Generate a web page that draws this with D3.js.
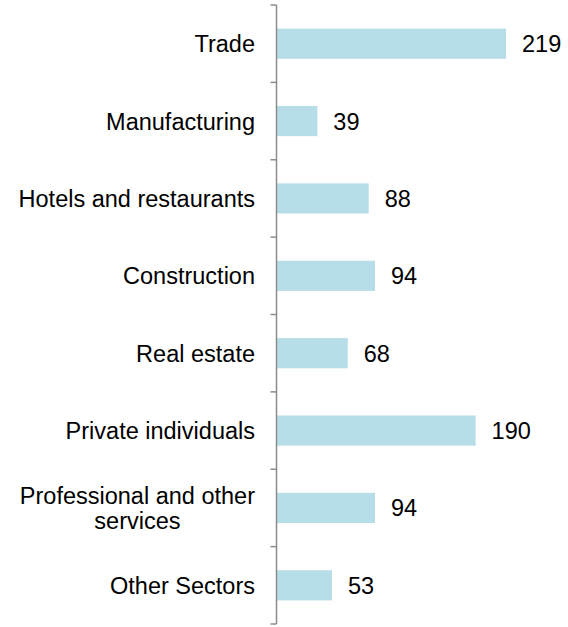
<!DOCTYPE html>
<html>
<head>
<meta charset="utf-8">
<script src="https://cdn.jsdelivr.net/npm/d3@7"></script>
<style>
  body { margin: 0; background: #fff; }
  svg text { font-family: "Liberation Sans", Arial, sans-serif; fill: #000; }
</style>
</head>
<body>
<svg id="chart" width="568" height="627"></svg>
<script>
// sectors, top to bottom
var sectors = ['Trade', 'Manufacturing', 'Hotels and restaurants', 'Construction',
  'Real estate', 'Private individuals', 'Professional and other services', 'Other Sectors'];
var values = [219, 39, 88, 94, 68, 190, 94, 53];
// wrapped labels
var labelLines = {
  'Professional and other services': ['Professional and other', 'services']
};

var svg = d3.select('#chart');
var axisX = 276.5;
var yTop = 5, yBottom = 624;
var fontSize = '23.5px';

var y = d3.scaleBand()
  .domain(sectors)
  .range([yTop, yBottom])
  .paddingInner(0.61)
  .paddingOuter(0.305);

var x = d3.scaleLinear()
  .domain([0, 219])
  .range([axisX, axisX + 229.5]);

// bars
svg.selectAll('.bar')
  .data(sectors)
  .enter()
  .append('rect')
  .attr('class', 'bar')
  .attr('x', x(0))
  .attr('y', function(d) { return y(d); })
  .attr('width', function(d, i) { return x(values[i]) - x(0); })
  .attr('height', y.bandwidth())
  .style('fill', '#b7dde8');

// value labels
svg.selectAll('.val')
  .data(sectors)
  .enter()
  .append('text')
  .attr('class', 'val')
  .attr('x', function(d, i) { return x(values[i]) + 16; })
  .attr('y', function(d) { return y(d) + y.bandwidth() / 2; })
  .attr('dy', '0.36em')
  .style('font-size', fontSize)
  .text(function(d, i) { return values[i]; });

// category labels
var labelX = 255;
svg.selectAll('.cat')
  .data(sectors)
  .enter()
  .append('text')
  .attr('class', 'cat')
  .style('font-size', fontSize)
  .each(function(d) {
    var lines = labelLines[d] || [d];
    var cy = y(d) + y.bandwidth() / 2;
    var lh = 25;
    var t = d3.select(this);
    if (lines.length === 1) {
      t.attr('text-anchor', 'end')
        .attr('x', labelX).attr('y', cy).attr('dy', '0.36em').text(d);
      return;
    }
    // multi-line: block right-aligned, lines centred inside it
    t.attr('text-anchor', 'middle');
    var spans = lines.map(function(l, j) {
      return t.append('tspan')
        .attr('y', cy + (j - (lines.length - 1) / 2) * lh)
        .attr('dy', '0.36em')
        .text(l);
    });
    var w = d3.max(spans, function(s) { return s.node().getComputedTextLength(); });
    spans.forEach(function(s) { s.attr('x', labelX - w / 2); });
  });

// axis line with ticks at band boundaries
var ticks = d3.range(sectors.length + 1).map(function(i) {
  return yTop + i * (yBottom - yTop) / sectors.length;
});
svg.append('line')
  .attr('x1', axisX).attr('x2', axisX)
  .attr('y1', yTop).attr('y2', yBottom)
  .style('stroke', '#8c8c8c').style('stroke-width', 1.5);
svg.selectAll('.tick')
  .data(ticks)
  .enter()
  .append('line')
  .attr('x1', axisX - 6).attr('x2', axisX)
  .attr('y1', function(d) { return d; })
  .attr('y2', function(d) { return d; })
  .style('stroke', '#8c8c8c').style('stroke-width', 1.5);
</script>
</body>
</html>
